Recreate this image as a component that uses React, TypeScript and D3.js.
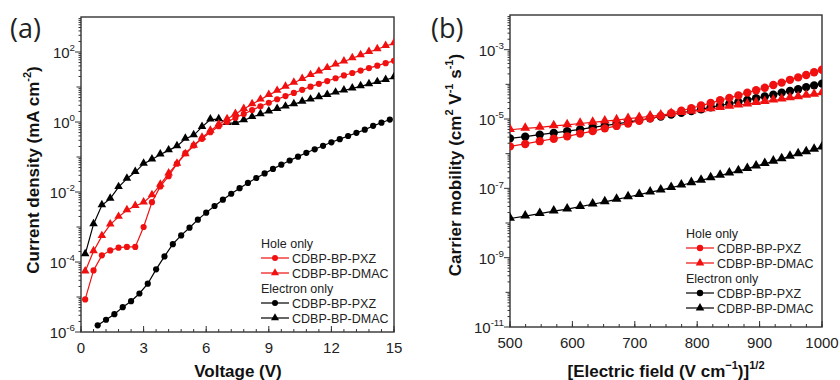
import React, { useRef, useEffect } from "react";
import * as d3 from "d3";

// ---- panel (a): J-V of single-carrier devices ----
const voltStep = [0.2, 0.6, 1.0, 1.4, 1.8, 2.2, 2.6, 3.0, 3.4, 3.8, 4.2, 4.6, 5.0, 5.4, 5.8, 6.2, 6.6, 7.0, 7.4, 7.8,
  8.2, 8.6, 9.0, 9.4, 9.8, 10.2, 10.6, 11.0, 11.4, 11.8, 12.2, 12.6, 13.0, 13.4, 13.8, 14.2, 14.6, 15.0];
const voltElecPxz = [0.8, 1.2, 1.6, 2.0, 2.4, 2.8, 3.2, 3.6, 4.0, 4.4, 4.8, 5.2, 5.6, 6.0, 6.4, 6.8, 7.2, 7.6, 8.0,
  8.4, 8.8, 9.2, 9.6, 10.0, 10.4, 10.8, 11.2, 11.6, 12.0, 12.4, 12.8, 13.2, 13.6, 14.0, 14.4, 14.8];

// log10 of current density (mA cm^-2)
const holePxzJ = [-5.07, -4.24, -3.81, -3.67, -3.59, -3.57, -3.57, -3.0, -2.29, -1.84, -1.55, -1.19, -0.89, -0.67,
  -0.48, -0.29, -0.12, 0.0, 0.12, 0.23, 0.34, 0.45, 0.55, 0.65, 0.74, 0.83, 0.92, 1.01, 1.09, 1.17, 1.25, 1.33,
  1.40, 1.47, 1.54, 1.61, 1.68, 1.75];
const holeDmacJ = [-4.27, -3.69, -3.26, -2.93, -2.71, -2.52, -2.40, -2.30, -2.09, -1.79, -1.47, -1.19, -0.92, -0.68,
  -0.45, -0.25, -0.07, 0.08, 0.23, 0.37, 0.51, 0.64, 0.77, 0.89, 1.01, 1.12, 1.23, 1.34, 1.44, 1.54, 1.64, 1.73,
  1.82, 1.91, 2.0, 2.08, 2.17, 2.25];
const elecDmacJ = [-3.78, -2.92, -2.38, -2.19, -1.86, -1.62, -1.43, -1.19, -1.07, -0.93, -0.81, -0.69, -0.48, -0.38,
  -0.14, 0.07, 0.08, -0.03, -0.03, 0.05, 0.14, 0.22, 0.30, 0.37, 0.44, 0.51, 0.58, 0.64, 0.71, 0.77, 0.84, 0.90,
  0.96, 1.02, 1.08, 1.14, 1.20, 1.28];
const elecPxzJ = [-5.81, -5.65, -5.49, -5.29, -5.12, -4.90, -4.62, -4.21, -3.84, -3.49, -3.24, -3.02, -2.79, -2.59,
  -2.40, -2.22, -2.05, -1.89, -1.74, -1.60, -1.47, -1.34, -1.22, -1.10, -0.99, -0.88, -0.78, -0.68, -0.58, -0.49,
  -0.40, -0.31, -0.22, -0.11, -0.02, 0.07];

// ---- panel (b): mobility vs sqrt(E) ----
const sqrtField = [500, 524.4, 547.7, 570.1, 591.6, 612.4, 632.5, 651.9, 670.8, 689.2, 707.1, 724.6, 741.6, 758.3,
  774.6, 790.6, 806.2, 821.6, 836.7, 851.5, 866.0, 880.3, 894.4, 908.3, 922.0, 935.4, 948.7, 961.8, 974.7, 987.4, 1000];
// log10 of mobility (cm2 V-1 s-1)
const muHolePxz = [-5.79, -5.72, -5.64, -5.57, -5.50, -5.42, -5.35, -5.27, -5.20, -5.13, -5.05, -4.98, -4.91, -4.83,
  -4.76, -4.69, -4.61, -4.54, -4.46, -4.39, -4.32, -4.24, -4.17, -4.10, -4.02, -3.95, -3.87, -3.80, -3.73, -3.65, -3.58];
const muHoleDmac = [-5.31, -5.27, -5.24, -5.20, -5.17, -5.13, -5.10, -5.06, -5.03, -4.99, -4.96, -4.92, -4.89, -4.85,
  -4.82, -4.78, -4.74, -4.71, -4.67, -4.64, -4.60, -4.57, -4.53, -4.50, -4.46, -4.43, -4.39, -4.36, -4.32, -4.29, -4.25];
const muElecPxz = [-5.56, -5.51, -5.45, -5.40, -5.35, -5.30, -5.24, -5.19, -5.14, -5.09, -5.03, -4.98, -4.93, -4.87,
  -4.82, -4.77, -4.72, -4.66, -4.61, -4.56, -4.51, -4.45, -4.40, -4.35, -4.30, -4.24, -4.19, -4.14, -4.08, -4.03, -3.98];
const muElecDmac = [-7.87, -7.80, -7.73, -7.66, -7.60, -7.53, -7.46, -7.39, -7.32, -7.25, -7.18, -7.11, -7.05, -6.98,
  -6.91, -6.84, -6.77, -6.70, -6.63, -6.56, -6.50, -6.43, -6.36, -6.29, -6.22, -6.15, -6.08, -6.01, -5.95, -5.88, -5.81];

const legendNames = ["CDBP-BP-PXZ", "CDBP-BP-DMAC"];
const RED = "#f01010";
const AXIS = "#333";
const FONT = "'Liberation Sans', Arial, sans-serif";

const App = () => {
  const svgRef = useRef(null);

  useEffect(() => {
    const svg = d3.select(svgRef.current);
    svg.selectAll("*").remove();

    // text with superscript parts; the shift is undone on the next normal part
    const supText = (t, parts, size) => {
      t.attr("font-size", size);
      let raised = false;
      parts.forEach(([s, sup]) => {
        const sp = t.append("tspan").text(s);
        if (sup) {
          sp.attr("font-size", size * 0.65).attr("dy", raised ? 0 : -size * 0.45);
          raised = true;
        } else {
          sp.attr("font-size", size).attr("dy", raised ? size * 0.45 : 0);
          raised = false;
        }
      });
    };

    const panel = (cfg) => {
      const { x0, x1, y0, y1, xDomain, yExp, xMajor, xMinor, labelExps, series, legend } = cfg;
      const x = d3.scaleLinear().domain(xDomain).range([x0, x1]);
      const y = d3.scaleLog().domain([Math.pow(10, yExp[0]), Math.pow(10, yExp[1])]).range([y1, y0]);
      const g = svg.append("g");

      // y ticks (outward), log minors
      for (let e = yExp[0]; e < yExp[1]; e++) {
        for (let m = 1; m < 10; m++) {
          const v = m * Math.pow(10, e);
          const len = m === 1 ? (labelExps.includes(e) ? 6 : 4.5) : 2.5;
          g.append("line").attr("x1", x0 - len).attr("x2", x0).attr("y1", y(v)).attr("y2", y(v))
            .attr("stroke", AXIS).attr("stroke-width", 1);
        }
      }
      labelExps.forEach((e) => {
        const t = g.append("text").attr("x", x0 - 6).attr("y", y(Math.pow(10, e)) + 6)
          .attr("text-anchor", "end").attr("font-family", FONT).attr("fill", "#222");
        supText(t, [["10", false], [String(e), true]], 15);
      });

      // x ticks (inward)
      xMinor.forEach((v) => {
        g.append("line").attr("x1", x(v)).attr("x2", x(v)).attr("y1", y1).attr("y2", y1 - 3)
          .attr("stroke", AXIS).attr("stroke-width", 1);
      });
      xMajor.forEach((v) => {
        g.append("line").attr("x1", x(v)).attr("x2", x(v)).attr("y1", y1).attr("y2", y1 - 6)
          .attr("stroke", AXIS).attr("stroke-width", 1);
        g.append("text").attr("x", x(v)).attr("y", y1 + 21).attr("text-anchor", "middle")
          .attr("font-family", FONT).attr("font-size", 15).attr("fill", "#222").text(v);
      });

      const clip = "clip" + x0;
      svg.append("defs").append("clipPath").attr("id", clip).append("rect")
        .attr("x", x0).attr("y", y0).attr("width", x1 - x0).attr("height", y1 - y0);
      const plot = svg.append("g").attr("clip-path", `url(#${clip})`);

      series.forEach((s) => {
        const pts = s.xs.map((v, i) => [v, Math.pow(10, s.ys[i])]);
        const line = d3.line().x((d) => x(d[0])).y((d) => y(d[1]));
        plot.append("path").attr("d", line(pts)).attr("fill", "none").attr("stroke", s.color).attr("stroke-width", 1.2);
        const sym = d3.symbol().type(s.shape === "circle" ? d3.symbolCircle : d3.symbolTriangle).size(s.size);
        plot.selectAll(null).data(pts).enter().append("path")
          .attr("d", sym)
          .attr("transform", (d) => `translate(${x(d[0])},${y(d[1]) + (s.shape === "circle" ? 0 : -0.5)})`)
          .attr("fill", s.color);
      });

      g.append("rect").attr("x", x0).attr("y", y0).attr("width", x1 - x0).attr("height", y1 - y0)
        .attr("fill", "none").attr("stroke", AXIS).attr("stroke-width", 1.4);

      // legend
      const lg = svg.append("g").attr("font-family", FONT).attr("font-size", 12.5).attr("fill", "#222");
      const rows = [
        { label: "Hole only" },
        { label: legendNames[0], color: RED, shape: "circle" },
        { label: legendNames[1], color: RED, shape: "triangle" },
        { label: "Electron only" },
        { label: legendNames[0], color: "#000", shape: "circle" },
        { label: legendNames[1], color: "#000", shape: "triangle" },
      ];
      rows.forEach((r, i) => {
        const cy = legend.y + i * 15;
        if (!r.color) {
          lg.append("text").attr("x", legend.x).attr("y", cy + 4.5).attr("font-size", 12.5).text(r.label);
          return;
        }
        lg.append("line").attr("x1", legend.x).attr("x2", legend.x + 28).attr("y1", cy).attr("y2", cy)
          .attr("stroke", r.color).attr("stroke-width", 1.2);
        lg.append("path").attr("d", d3.symbol().type(r.shape === "circle" ? d3.symbolCircle : d3.symbolTriangle).size(legend.size)())
          .attr("transform", `translate(${legend.x + 14},${cy})`).attr("fill", r.color);
        lg.append("text").attr("x", legend.x + 31).attr("y", cy + 4.5).attr("font-size", 12.5).text(r.label);
      });
    };

    panel({
      x0: 81, x1: 394, y0: 17, y1: 332,
      xDomain: [0, 15], yExp: [-6, 3],
      xMajor: [0, 3, 6, 9, 12, 15],
      xMinor: d3.range(0, 15.01, 0.6),
      labelExps: [-6, -4, -2, 0, 2],
      series: [
        { xs: voltElecPxz, ys: elecPxzJ, color: "#000", shape: "circle", size: 30 },
        { xs: voltStep, ys: elecDmacJ, color: "#000", shape: "triangle", size: 32 },
        { xs: voltStep, ys: holePxzJ, color: RED, shape: "circle", size: 30 },
        { xs: voltStep, ys: holeDmacJ, color: RED, shape: "triangle", size: 32 },
      ],
      legend: { x: 261, y: 243, size: 28 },
    });

    panel({
      x0: 510, x1: 822, y0: 15, y1: 327,
      xDomain: [500, 1000], yExp: [-11, -2],
      xMajor: [500, 600, 700, 800, 900, 1000],
      xMinor: d3.range(500, 1001, 25),
      labelExps: [-11, -9, -7, -5, -3],
      series: [
        { xs: sqrtField, ys: muElecDmac, color: "#000", shape: "triangle", size: 42 },
        { xs: sqrtField, ys: muElecPxz, color: "#000", shape: "circle", size: 55 },
        { xs: sqrtField, ys: muHoleDmac, color: RED, shape: "triangle", size: 42 },
        { xs: sqrtField, ys: muHolePxz, color: RED, shape: "circle", size: 55 },
      ],
      legend: { x: 686, y: 233, size: 32 },
    });

    // axis titles
    const title = (tx, ty, rot, parts) => {
      const t = svg.append("text").attr("transform", `translate(${tx},${ty}) rotate(${rot})`)
        .attr("text-anchor", "middle").attr("font-family", FONT).attr("font-weight", "bold").attr("fill", "#111");
      supText(t, parts, 17);
    };
    title(238, 377, 0, [["Voltage (V)", false]]);
    title(39, 170, -90, [["Current density (mA cm", false], ["-2", true], [")", false]]);
    title(666, 377, 0, [["[Electric field (V cm", false], ["\u22121", true], [")]", false], ["1/2", true]]);
    title(461, 165, -90, [["Carrier mobility (cm", false], ["2", true], [" V", false], ["-1", true], [" s", false], ["-1", true], [")", false]]);

    svg.append("text").attr("x", 10).attr("y", 38).attr("font-family", "'Open Sans', sans-serif")
      .attr("font-size", 27).attr("fill", "#222").text("(a)");
    svg.append("text").attr("x", 431).attr("y", 38).attr("font-family", "'Open Sans', sans-serif")
      .attr("font-size", 27).attr("fill", "#222").text("(b)");
  }, []);

  return (
    <svg ref={svgRef} width={840} height={380}
      style={{ position: "absolute", left: 0, top: 0, background: "#fff" }} />
  );
};

export default App;
